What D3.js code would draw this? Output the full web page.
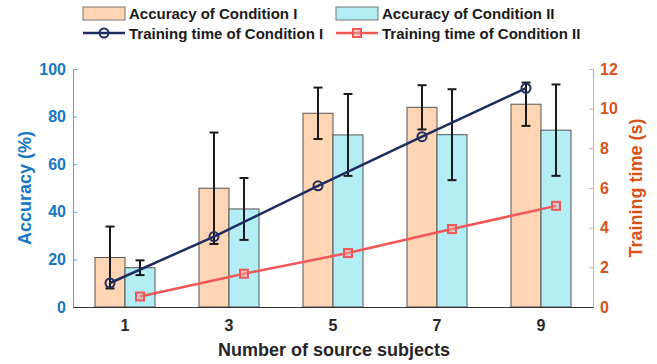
<!DOCTYPE html>
<html><head><meta charset="utf-8">
<script src="https://cdn.jsdelivr.net/npm/d3@7"></script>
<style>body{margin:0;background:#fff}svg{display:block}text{font-family:"Liberation Sans",Arial,sans-serif;font-weight:bold}</style>
</head><body><svg id="c" width="657" height="364"></svg>
<script>
const categories = ["1","3","5","7","9"];
const accI = [20.8, 49.9, 81.4, 83.9, 85.2];
const accIErr = [13.0, 23.4, 10.8, 9.3, 9.1];
const accII = [16.5, 41.2, 72.3, 72.4, 74.3];
const accIIErr = [3.1, 13.0, 17.2, 19.1, 19.2];
const timeI = [1.21, 3.55, 6.11, 8.59, 11.03];
const timeII = [0.53, 1.68, 2.72, 3.93, 5.10];
const leftTicks = [0,20,40,60,80,100];
const rightTicks = [0,2,4,6,8,10,12];
const seriesNames = ["Accuracy of Condition I","Accuracy of Condition II","Training time of Condition I","Training time of Condition II"];

const svg = d3.select("#c");
const L=73, R=593, T=69, B=307;
const cI="#FFD5B3", cII="#B3EEF5", lI="#1F2D5E", lII="#F25757";
const blue="#1677C4", orange="#D95319";

const x = d3.scaleBand().domain(categories).range([L,R]).padding(0);
const sub = d3.scaleBand().domain(["I","II"]).range([0,x.bandwidth()]).paddingInner(0).paddingOuter(0.733);
const yL = d3.scaleLinear().domain([0,100]).range([B,T]);
const yR = d3.scaleLinear().domain([0,12]).range([B,T]);

// bars
const bars = [{k:"I",v:accI,e:accIErr,c:cI},{k:"II",v:accII,e:accIIErr,c:cII}];
bars.forEach(s=>{
  svg.append("g").selectAll("rect").data(categories).join("rect")
    .attr("x",(d)=>x(d)+sub(s.k)).attr("width",sub.bandwidth())
    .attr("y",(d,i)=>yL(s.v[i])).attr("height",(d,i)=>yL(0)-yL(s.v[i]))
    .attr("fill",s.c).attr("stroke","#555").attr("stroke-width",1);
});
// error bars
bars.forEach(s=>{
  const g=svg.append("g").attr("stroke","#1a1a1a").attr("stroke-width",2);
  categories.forEach((d,i)=>{
    const cx=x(d)+sub(s.k)+sub.bandwidth()/2;
    const y1=yL(s.v[i]-s.e[i]), y2=yL(s.v[i]+s.e[i]);
    g.append("line").attr("x1",cx).attr("x2",cx).attr("y1",y1).attr("y2",y2);
    g.append("line").attr("x1",cx-4.5).attr("x2",cx+4.5).attr("y1",y1).attr("y2",y1);
    g.append("line").attr("x1",cx-4.5).attr("x2",cx+4.5).attr("y1",y2).attr("y2",y2);
  });
});

// axes
const axL = svg.append("g").attr("transform",`translate(${L},0)`)
  .call(d3.axisLeft(yL).tickValues(leftTicks).tickSizeInner(-4).tickSizeOuter(0).tickPadding(7));
axL.select(".domain").attr("stroke","#5BA3D9");
axL.selectAll(".tick line").attr("stroke","#5BA3D9");
axL.selectAll("text").attr("fill",blue).style("font-size","16px").style("font-family","Liberation Sans").style("font-weight","bold");

const axR = svg.append("g").attr("transform",`translate(${R},0)`)
  .call(d3.axisRight(yR).tickValues(rightTicks).tickSizeInner(-4).tickSizeOuter(0).tickPadding(7));
axR.select(".domain").attr("stroke","#F2A68C");
axR.selectAll(".tick line").attr("stroke","#F2A68C");
axR.selectAll("text").attr("fill",orange).style("font-size","16px").style("font-family","Liberation Sans").style("font-weight","bold");

const axB = svg.append("g").attr("transform",`translate(0,${B})`)
  .call(d3.axisBottom(x).tickSize(0).tickPadding(13));
axB.select(".domain").attr("stroke","#333");
axB.selectAll("text").attr("fill","#262626").style("font-size","16px").style("font-family","Liberation Sans").style("font-weight","bold");

// lines
const ptX = (k)=> (d)=> x(d)+sub(k)+sub.bandwidth()/2;
const lineI = d3.line().x((d,i)=>ptX("I")(categories[i])).y(d=>yR(d));
const lineII = d3.line().x((d,i)=>ptX("II")(categories[i])).y(d=>yR(d));
svg.append("path").attr("d",lineI(timeI)).attr("fill","none").attr("stroke",lI).attr("stroke-width",2.5);
svg.append("path").attr("d",lineII(timeII)).attr("fill","none").attr("stroke",lII).attr("stroke-width",2.5);
svg.append("g").selectAll("circle").data(timeI).join("circle")
  .attr("cx",(d,i)=>ptX("I")(categories[i])).attr("cy",d=>yR(d)).attr("r",4.5)
  .attr("fill","none").attr("stroke",lI).attr("stroke-width",2);
svg.append("g").selectAll("rect").data(timeII).join("rect")
  .attr("x",(d,i)=>ptX("II")(categories[i])-4).attr("y",d=>yR(d)-4).attr("width",8).attr("height",8)
  .attr("fill","#F7A6A6").attr("fill-opacity",0.5).attr("stroke",lII).attr("stroke-width",2);

// axis titles
svg.append("text").attr("transform",`translate(25,${(T+B)/2}) rotate(-90)`).attr("text-anchor","middle")
  .attr("dominant-baseline","central").attr("fill",blue).style("font-size","18px").text("Accuracy (%)");
svg.append("text").attr("transform",`translate(636,${(T+B)/2}) rotate(-90)`).attr("text-anchor","middle")
  .attr("dominant-baseline","central").attr("fill",orange).style("font-size","18px").text("Training time (s)");
svg.append("text").attr("x",334).attr("y",356).attr("text-anchor","middle").attr("fill","#262626")
  .style("font-size","18px").text("Number of source subjects");

// legend
const leg = svg.append("g");
const cols=[83,336], rows=[13,33];
[[0,0],[1,0],[0,1],[1,1]].forEach(([c,r],i)=>{
  const lx=cols[c], ly=rows[r];
  if(r===0){
    leg.append("rect").attr("x",lx).attr("y",ly-6).attr("width",42).attr("height",13)
      .attr("fill",i===0?cI:cII).attr("stroke","#777").attr("stroke-width",1);
  } else {
    const col = i===2?lI:lII;
    leg.append("line").attr("x1",lx).attr("x2",lx+42).attr("y1",ly).attr("y2",ly).attr("stroke",col).attr("stroke-width",2.5);
    if(i===2) leg.append("circle").attr("cx",lx+21).attr("cy",ly).attr("r",4.5).attr("fill","none").attr("stroke",col).attr("stroke-width",2);
    else leg.append("rect").attr("x",lx+17).attr("y",ly-4).attr("width",8).attr("height",8).attr("fill","#F7A6A6").attr("fill-opacity",0.5).attr("stroke",col).attr("stroke-width",2);
  }
  leg.append("text").attr("x",lx+46).attr("y",ly).attr("dominant-baseline","central").attr("fill","#1a1a1a")
    .style("font-size","15px").text(seriesNames[i]);
});
</script></body></html>
